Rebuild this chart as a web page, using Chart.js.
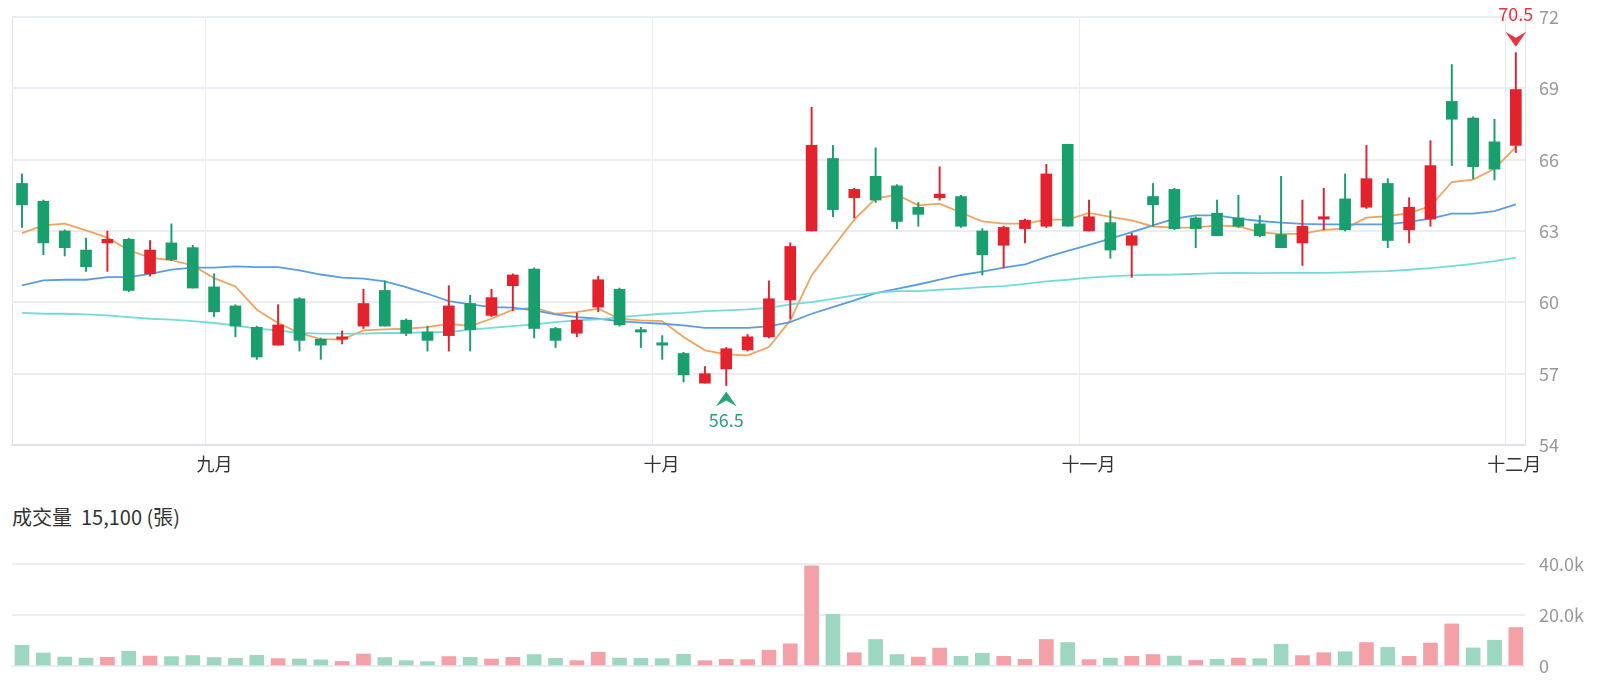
<!DOCTYPE html>
<html><head><meta charset="utf-8">
<script src="https://cdn.jsdelivr.net/npm/chart.js@4.4.0/dist/chart.umd.min.js"></script>
<style>
html,body{margin:0;padding:0;background:#fff;}
#wrap{position:relative;width:1600px;height:682px;overflow:hidden;background:#fff;}
#c1{position:absolute;left:0;top:0;}
#c2{position:absolute;left:0;top:540px;}
#vol{position:absolute;left:12px;top:506px;font:20px 'Noto Sans CJK TC','Noto Sans',sans-serif;color:#333;line-height:22px;white-space:pre;}
</style></head><body>
<div id="wrap">
<canvas id="c1" width="1600" height="490"></canvas>
<div id="vol"></div>
<canvas id="c2" width="1600" height="142"></canvas>
</div>
<script>
// ---- data ----
const opens  = [65.0,64.25,63.0,62.2,62.5,62.65,61.2,62.5,62.3,60.65,59.85,58.95,58.2,60.15,58.45,58.45,59.0,60.5,59.25,58.75,58.6,59.95,59.45,60.7,61.4,58.9,58.7,59.8,60.55,58.85,58.3,57.85,56.6,57.2,58.0,58.55,60.1,63.0,66.05,64.4,65.3,64.9,64.0,64.4,64.45,63.0,62.4,63.1,63.2,66.65,63.0,63.35,62.4,64.45,64.75,63.55,63.75,63.55,63.3,62.85,62.5,63.5,64.35,64.0,65.0,63.05,63.5,68.45,67.75,66.75,66.6];
const highs  = [65.4,64.3,63.05,62.7,63.0,62.7,62.6,63.3,62.4,61.2,59.9,59.0,59.9,60.2,58.5,58.8,60.55,60.9,59.3,59.0,60.7,60.3,60.55,61.2,61.45,58.95,59.55,61.1,60.6,58.95,58.6,57.9,57.3,58.1,58.65,60.9,62.5,68.2,66.6,64.8,66.5,64.95,64.2,65.7,64.5,63.1,63.2,63.5,65.8,66.65,64.3,63.85,62.9,65.0,64.8,63.6,64.3,64.5,63.65,65.3,64.3,64.8,65.4,66.6,65.2,64.4,66.8,70.0,67.8,67.7,70.5];
const lows   = [63.15,62.0,61.95,61.3,61.3,60.45,61.1,61.75,60.6,59.4,58.55,57.6,58.2,57.95,57.6,58.25,58.9,59.0,58.6,57.95,57.95,57.95,59.4,59.65,58.5,58.1,58.55,59.6,59.0,58.1,57.6,56.65,56.6,56.5,57.95,58.5,59.3,63.0,63.6,63.55,64.2,63.1,63.2,64.3,63.15,61.15,61.45,62.5,63.15,63.2,63.0,61.85,61.05,63.2,63.05,62.3,62.8,63.15,62.75,62.3,61.55,63.05,63.0,63.95,62.3,62.5,63.2,65.75,65.2,65.15,66.3];
const closes = [64.1,62.5,62.3,61.5,62.65,60.5,62.2,61.8,60.6,59.6,59.0,57.7,59.05,58.4,58.2,58.55,59.95,59.0,58.7,58.4,59.85,58.85,60.2,61.15,58.9,58.4,59.25,60.95,59.05,58.75,58.2,56.95,57.0,58.05,58.55,60.15,62.35,66.6,63.9,64.75,64.3,63.4,63.7,64.55,63.2,62.0,63.15,63.45,65.4,63.2,63.6,62.2,62.8,64.1,63.1,63.1,62.8,63.2,62.8,62.3,63.2,63.6,63.05,65.2,62.6,64.0,65.75,67.7,65.7,65.6,68.95];
const ma5  = [62.91,63.24,63.31,63.03,62.72,62.19,61.88,61.77,61.55,61.02,60.67,59.69,59.13,58.71,58.45,58.43,58.82,58.86,58.89,58.96,59.1,59.0,59.31,59.69,59.78,59.52,59.59,59.73,59.31,59.24,59.21,58.54,57.98,57.81,57.77,58.12,59.24,61.13,62.32,63.48,64.36,64.53,64.08,64.15,63.77,63.4,63.31,63.31,63.48,63.48,63.76,63.59,63.45,63.19,63.14,63.14,63.24,63.19,62.95,62.87,62.89,63.05,63.1,63.56,63.62,63.76,64.04,65.06,65.16,65.62,66.53];
const ma20 = [60.71,60.92,60.95,60.95,61.06,61.06,61.2,61.38,61.46,61.46,61.51,61.48,61.48,61.34,61.17,61.04,61.0,60.88,60.64,60.36,60.05,59.91,59.8,59.78,59.66,59.49,59.38,59.31,59.21,59.15,59.1,59.03,58.93,58.93,58.93,58.99,59.17,59.52,59.8,60.08,60.39,60.57,60.75,60.95,61.15,61.29,61.46,61.6,61.9,62.16,62.42,62.68,62.95,63.24,63.52,63.66,63.66,63.52,63.42,63.35,63.3,63.28,63.28,63.28,63.28,63.38,63.52,63.73,63.73,63.84,64.12];
const ma60 = [59.56,59.52,59.52,59.49,59.45,59.38,59.31,59.27,59.21,59.13,59.03,58.89,58.82,58.71,58.68,58.68,58.68,58.71,58.71,58.75,58.75,58.85,58.93,59.0,59.07,59.17,59.24,59.28,59.38,59.45,59.52,59.56,59.63,59.66,59.7,59.77,59.91,60.01,60.15,60.29,60.4,60.47,60.47,60.53,60.58,60.64,60.68,60.78,60.88,60.95,61.04,61.09,61.13,61.16,61.17,61.2,61.23,61.24,61.23,61.24,61.24,61.24,61.26,61.29,61.31,61.37,61.44,61.52,61.62,61.73,61.88];
const volumes = [8100,5100,3500,3100,3400,5800,3900,3700,4100,3300,3000,4200,2900,2750,2400,1800,4700,3300,2100,1700,3700,3400,2750,3400,4500,3000,2100,5400,3100,3000,2900,4600,2100,2600,2500,6200,8700,39300,20300,5200,10400,4500,3500,7000,3800,5000,3800,2600,10400,9200,2500,3100,3800,4500,3900,2200,2600,3100,2900,8500,4100,5200,5600,9200,7300,3800,9000,16500,7100,10100,15100];
// volume bar colour: 1 = up (red), 0 = down (green)
const volUp = [0,0,0,0,1,0,1,0,0,0,0,0,1,0,0,1,1,0,0,0,1,0,1,1,0,0,1,1,0,0,0,0,1,1,1,1,1,1,0,1,0,0,1,1,0,0,1,1,1,0,1,0,1,1,0,1,0,1,0,0,1,1,0,1,0,1,1,1,0,0,1];
const monthTicks  = [8.6, 29.55, 49.55, 69.5];
const monthLabels = ['九月','十月','十一月','十二月'];
const priceTicks = [54,57,60,63,66,69,72];
const volTicks = [0,20000,40000];

// ---- styling ----
const RED='#e2232e', GREEN='#189f6d', VRED='#f3a1a6', VGREEN='#9dd7c1';
const FONT="'Noto Sans CJK TC','Noto Sans',sans-serif";
Chart.defaults.font.family=FONT;
Chart.defaults.font.size=18;
const XMIN=-0.47, XMAX=70.43;
const idx = opens.map((_,i)=>i);
const candleCol = idx.map(i => closes[i]>=opens[i] ? RED : GREEN);

document.getElementById('vol').textContent = '成交量  ' + volumes[volumes.length-1].toLocaleString('en-US') + ' (張)';

const markPlugin = {
  id:'marks',
  afterDatasetsDraw(chart){
    const {ctx} = chart; const x=chart.scales.x, y=chart.scales.y;
    let hi=0, lo=0;
    for(let i=1;i<highs.length;i++){ if(highs[i]>highs[hi]) hi=i; if(lows[i]<lows[lo]) lo=i; }
    ctx.save();
    ctx.font="18px "+FONT; ctx.textAlign='center'; ctx.textBaseline='middle';
    let cx=x.getPixelForValue(hi), tip=y.getPixelForValue(highs[hi])-6;
    ctx.fillStyle='#ea3340';
    ctx.beginPath(); ctx.moveTo(cx,tip); ctx.lineTo(cx-10.5,tip-15); ctx.lineTo(cx,tip-9); ctx.lineTo(cx+10.5,tip-15); ctx.closePath(); ctx.fill();
    ctx.fillText(highs[hi].toFixed(1), cx, tip-33);
    cx=x.getPixelForValue(lo); tip=y.getPixelForValue(lows[lo])+6;
    ctx.fillStyle='#2aa377';
    ctx.beginPath(); ctx.moveTo(cx,tip); ctx.lineTo(cx-10.5,tip+15); ctx.lineTo(cx,tip+9); ctx.lineTo(cx+10.5,tip+15); ctx.closePath(); ctx.fill();
    ctx.fillText(lows[lo].toFixed(1), cx, tip+29);
    ctx.restore();
  }
};

function line(data,color,order){
  return {type:'line', data: idx.map(i=>({x:i,y:data[i]})), borderColor:color, borderWidth:1.8, pointRadius:0, tension:0, order};
}
function fitY(s){ s.width=75; s.paddingTop=0; s.paddingBottom=0; }

new Chart(document.getElementById('c1'), {
  type:'bar',
  data:{ datasets:[
    {data: idx.map(i=>({x:i,y:[opens[i],closes[i]]})), backgroundColor:candleCol, borderWidth:0, grouped:false, barThickness:11, maxBarThickness:11, barPercentage:1, categoryPercentage:1, minBarLength:2, order:1},
    {data: idx.map(i=>({x:i,y:[lows[i],highs[i]]})), backgroundColor:candleCol, borderWidth:0, grouped:false, barThickness:1.3, maxBarThickness:1.3, barPercentage:1, categoryPercentage:1, order:2},
    line(ma60,'#72dcda',3), line(ma20,'#5b9de3',3), line(ma5,'#f4a35f',3)
  ]},
  options:{
    responsive:false, animation:false, events:[],
    layout:{autoPadding:false, padding:{left:12,right:0,top:17,bottom:0}},
    plugins:{legend:{display:false},tooltip:{enabled:false}},
    scales:{
      x:{type:'linear', min:XMIN, max:XMAX, offset:false,
        afterBuildTicks:(s)=>{ s.ticks=[{value:XMIN}].concat(monthTicks.map(v=>({value:v}))); },
        afterFit:(s)=>{ s.height=45; s.paddingLeft=0; s.paddingRight=0; },
        ticks:{autoSkip:false, maxRotation:0, color:'#333', padding:8, labelOffset:9,
          callback:(v)=>{ const k=monthTicks.indexOf(v); return k>=0?monthLabels[k]:''; }},
        grid:{offset:false, drawTicks:false, lineWidth:1, color:(c)=> c.index===0 ? '#dfe2ea' : '#ebecf2'},
        border:{display:true, color:'#dfe2ea', width:2}
      },
      y:{position:'right', min:54, max:72,
        afterBuildTicks:(s)=>{ s.ticks=priceTicks.map(v=>({value:v})); },
        afterFit:fitY,
        ticks:{color:'#999', padding:14},
        grid:{drawTicks:false, lineWidth:2, color:'#ebedf4'},
        border:{display:true, color:'#e4e6ee', width:1}
      }
    }
  },
  plugins:[markPlugin]
});

new Chart(document.getElementById('c2'), {
  type:'bar',
  data:{ datasets:[
    {data: idx.map(i=>({x:i,y:volumes[i]})), backgroundColor: idx.map(i=> volUp[i]?VRED:VGREEN), borderWidth:0, grouped:false, barThickness:14, maxBarThickness:14, barPercentage:1, categoryPercentage:1}
  ]},
  options:{
    responsive:false, animation:false, events:[],
    layout:{autoPadding:false, padding:{left:12,right:0,top:24,bottom:16}},
    plugins:{legend:{display:false},tooltip:{enabled:false}},
    scales:{
      x:{type:'linear', min:XMIN, max:XMAX, offset:false, display:false, grid:{offset:false}},
      y:{position:'right', min:0, max:40000,
        afterBuildTicks:(s)=>{ s.ticks=volTicks.map(v=>({value:v})); },
        afterFit:fitY,
        ticks:{color:'#999', padding:14, callback:(v)=> v===0?'0':(v/1000).toFixed(1)+'k'},
        grid:{drawTicks:false, lineWidth:2, color:'#ebedf4'},
        border:{display:false}
      }
    }
  }
});
</script>
</body></html>
